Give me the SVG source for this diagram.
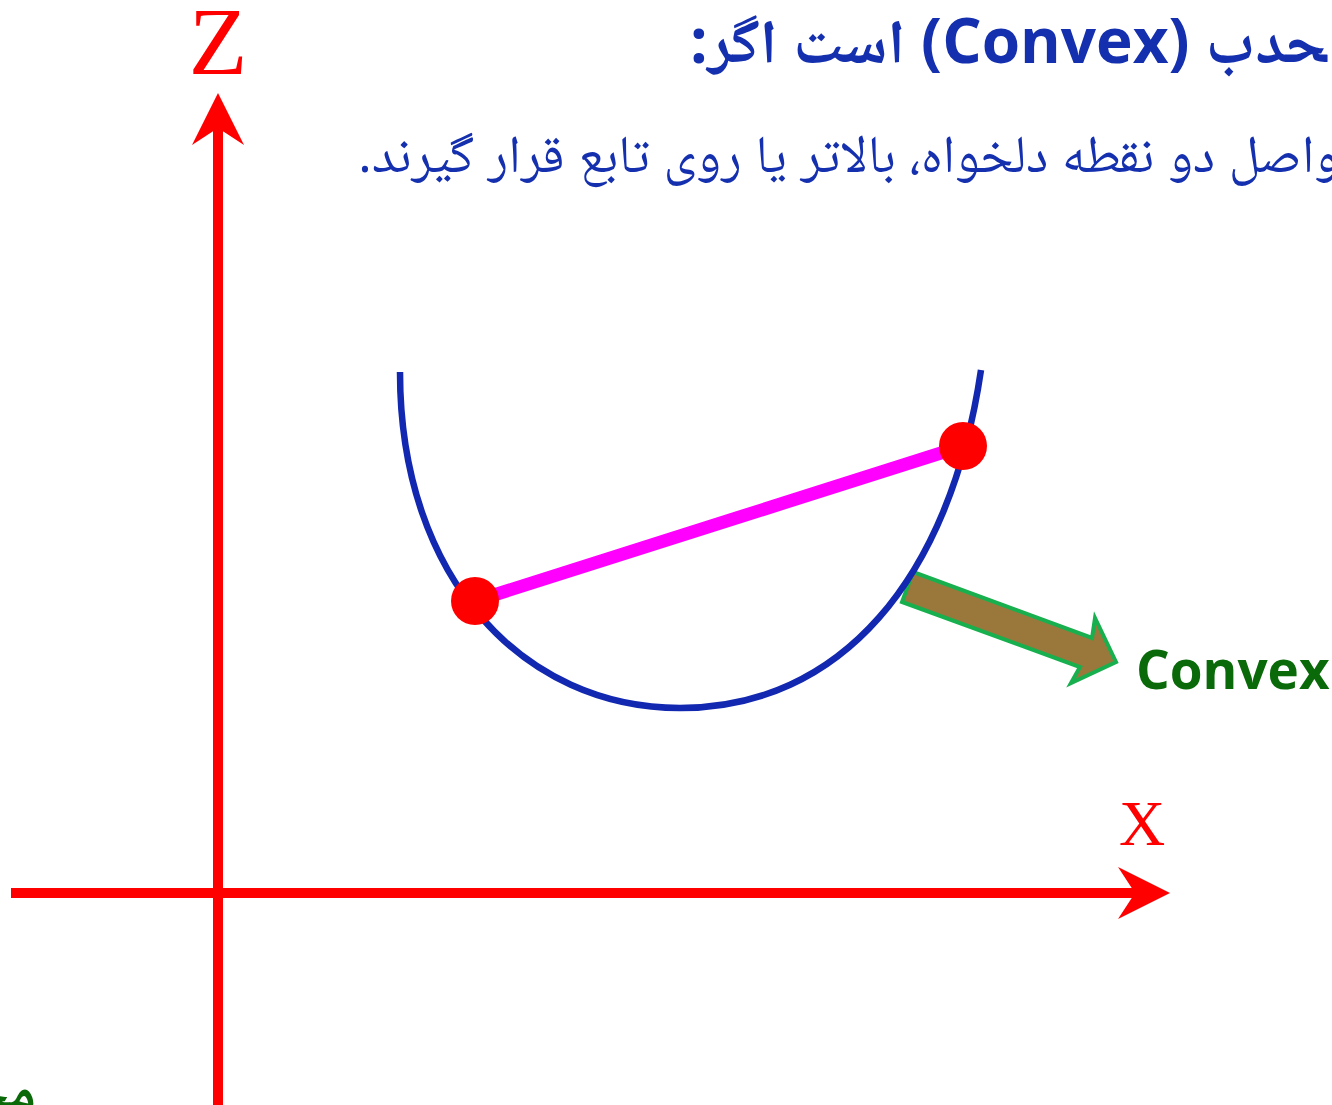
<svg xmlns="http://www.w3.org/2000/svg" width="1332" height="1105" viewBox="0 0 1332 1105">
  <style>
    .axis { stroke: #FF0000; stroke-width: 10; fill: none; }
    .axlbl { font-family: "Liberation Serif", "Times New Roman", serif; fill: #FF0000; text-anchor: middle; }
    .fa { font-family: "Open Sans", "Noto Naskh Arabic", "Noto Sans Arabic", "DejaVu Sans", sans-serif; fill: #1530AF; }
    .pt { fill: #FF0000; }
  </style>
  <defs>
    <marker id="axhead" viewBox="-52 -26 52 52" refX="-35" refY="0" markerWidth="52" markerHeight="52" markerUnits="userSpaceOnUse" orient="auto">
      <path d="M0,0 L-52,-26 L-35,0 L-52,26 Z" fill="#FF0000"/>
    </marker>
  </defs>
  <rect width="1332" height="1105" fill="#FFFFFF"/>

  <g id="title">
    <text class="fa" x="690" y="63" font-size="62" font-weight="bold" direction="rtl" text-anchor="end">&#x200D;حدب (Convex) است اگر:</text>
  </g>
  <g id="subtitle">
    <text class="fa" x="358" y="172" font-size="53" direction="rtl" text-anchor="end">واصل دو نقطه دلخواه، بالاتر یا روی تابع قرار گیرند.</text>
  </g>

  <g id="connectors">
    <line id="z-axis" class="axis" x1="218" y1="1105" x2="218" y2="128" marker-end="url(#axhead)"/>
    <line id="x-axis" class="axis" x1="11" y1="893" x2="1135" y2="893" marker-end="url(#axhead)"/>
    <polygon id="convex-arrow" points="913,572 1092,638 1095,618 1116,662 1071,683 1080,667 902,602" fill="#9A773B" stroke="#18B04F" stroke-width="4" stroke-linejoin="miter"/>
  </g>

  <g id="z-label"><text class="axlbl" x="218" y="74" font-size="96">Z</text></g>
  <g id="x-label"><text class="axlbl" x="1142" y="845" font-size="64">X</text></g>

  <g id="curve">
    <path d="M400,372 C400,580 525,708 680,708 C840,708 950,580 981,370" fill="none" stroke="#1228B0" stroke-width="6.5"/>
  </g>
  <g id="chord">
    <line x1="475" y1="601" x2="963" y2="446" stroke="#FF00FF" stroke-width="13"/>
  </g>
  <g id="point-a"><circle class="pt" cx="475" cy="601" r="24"/></g>
  <g id="point-b"><circle class="pt" cx="963" cy="446" r="24"/></g>

  <g id="convex-label">
    <text x="1136" y="689" font-family="Open Sans, Liberation Sans, sans-serif" font-weight="bold" font-size="53" fill="#0A6A0A">Convex</text>
  </g>
  <g id="bottom-label">
    <text x="36" y="1110" font-family="Noto Naskh Arabic, Noto Sans Arabic, DejaVu Sans, sans-serif" font-weight="bold" font-size="56" fill="#0A6A0A" direction="rtl" text-anchor="start">محدب</text>
  </g>
</svg>
